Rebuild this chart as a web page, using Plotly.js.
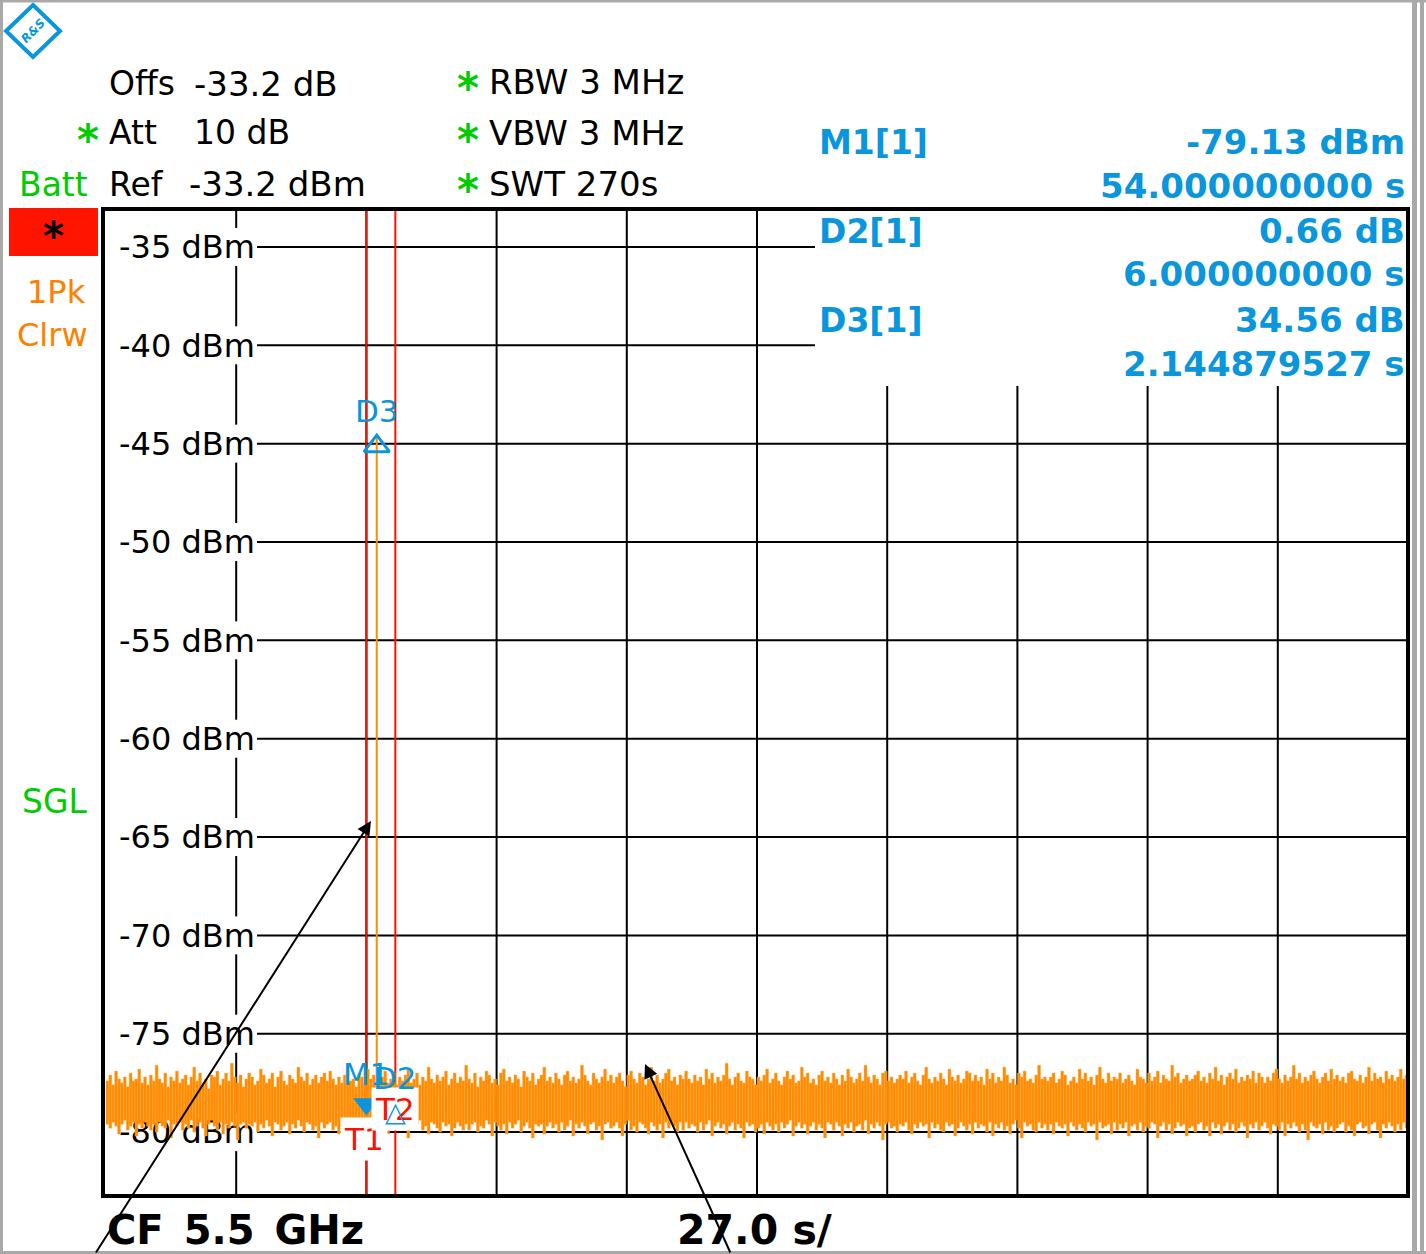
<!DOCTYPE html>
<html>
<head>
<meta charset="utf-8">
<script src="https://cdn.plot.ly/plotly-3.0.1.min.js"></script>
<style>html,body{margin:0;padding:0;background:#fff;}#chart{width:1426px;height:1254px;}</style>
</head>
<body>
<div id="chart"></div>
<script>
// ---------------- data ----------------
const sweepTimeS = 270;
const timeGridStepS = 27;
const yTickVals = [-80, -75, -70, -65, -60, -55, -50, -45, -40, -35];
const yTickLabels = ['-80 dBm', '-75 dBm', '-70 dBm', '-65 dBm', '-60 dBm', '-55 dBm', '-50 dBm', '-45 dBm', '-40 dBm', '-35 dBm'];

// peak-detector trace: per time bin, top and bottom of the drawn trace (dBm)
const noiseHigh = [
-77.4,-77.1,-77.6,-76.9,-77.3,-77.5,-77.2,-77.7,-77.0,-77.4,-77.3,-76.8,-77.5,-77.2,-77.6,-77.1,-77.4,-76.6,-77.3,-77.5,-77.0,-77.7,-77.2,-77.4,-76.9,
-77.5,-77.3,-77.1,-77.6,-77.2,-76.7,-77.4,-77.0,-77.5,-77.3,-77.8,-77.1,-77.2,-76.9,-77.6,-77.3,-77.0,-77.4,-76.5,-77.2,-77.5,-77.1,-77.7,-77.3,-77.0,
-77.2,-77.6,-77.4,-76.8,-77.1,-77.5,-77.3,-77.0,-77.7,-77.2,-76.9,-77.4,-77.6,-77.1,-77.3,-77.5,-76.7,-77.2,-77.4,-77.0,-77.6,-77.3,-77.1,-77.5,-77.2,
-77.0,-77.4,-76.9,-77.3,-77.6,-77.2,-77.5,-77.1,-76.6,-77.4,-77.3,-77.7,-77.0,-77.2,-77.5,-76.8,-77.3,-77.1,-77.6,-77.4,-77.2,-76.9,-77.5,-77.3,-77.0,
-77.6,-77.2,-77.4,-77.1,-76.8,-77.5,-77.3,-77.0,-77.6,-77.2,-77.4,-76.7,-77.3,-77.5,-77.1,-77.4,-77.2,-76.9,-77.6,-77.3,-77.0,-77.5,-77.2,-77.4,-76.6,
-77.3,-77.5,-77.0,-77.7,-77.2,-77.4,-76.9,-77.1,-77.5,-77.3,-77.6,-77.0,-76.8,-77.4,-77.2,-77.5,-77.1,-77.3,-77.7,-76.9,-77.2,-77.4,-77.0,-77.6,-77.3,
-77.1,-76.7,-77.4,-77.2,-77.5,-77.0,-77.3,-77.6,-77.1,-76.9,-77.4,-77.2,-77.5,-77.3,-76.6,-77.1,-77.4,-77.6,-77.0,-77.3,-77.5,-77.2,-76.8,-77.4,-77.1,
-77.5,-77.2,-77.0,-77.4,-77.7,-77.1,-76.9,-77.3,-77.5,-77.0,-77.2,-77.6,-77.3,-76.7,-77.4,-77.1,-77.5,-77.3,-77.0,-76.8,-77.4,-77.2,-77.6,-77.1,-77.3,
-76.9,-77.3,-77.5,-77.1,-77.4,-77.2,-77.6,-76.8,-77.3,-77.0,-77.5,-77.2,-77.4,-77.1,-76.5,-77.3,-77.6,-77.2,-77.0,-77.4,-77.5,-76.9,-77.2,-77.3,-77.6,
-77.2,-77.4,-77.1,-76.8,-77.5,-77.3,-77.0,-77.4,-77.6,-77.2,-76.9,-77.3,-77.1,-77.5,-77.4,-76.7,-77.2,-77.0,-77.5,-77.3,-77.6,-77.1,-76.9,-77.4,-77.2,
-77.5,-77.0,-77.3,-77.6,-77.1,-77.4,-76.8,-77.2,-77.5,-77.3,-77.0,-77.4,-76.6,-77.2,-77.5,-77.1,-77.3,-77.6,-77.0,-76.9,-77.4,-77.2,-77.5,-77.3,-77.1,
-77.3,-76.9,-77.5,-77.2,-77.0,-77.4,-77.6,-77.1,-76.7,-77.3,-77.5,-77.2,-77.4,-77.0,-77.3,-77.6,-76.8,-77.2,-77.4,-77.1,-77.5,-77.3,-76.9,-77.0,-77.4,
-77.1,-77.4,-77.2,-77.6,-76.8,-77.3,-77.0,-77.5,-77.2,-77.4,-76.7,-77.1,-77.5,-77.3,-77.6,-77.0,-77.2,-76.9,-77.4,-77.3,-77.5,-77.1,-76.6,-77.3,-77.2,
-77.4,-77.2,-77.0,-77.5,-77.3,-76.9,-77.1,-77.6,-77.4,-77.2,-77.5,-76.8,-77.3,-77.0,-77.4,-77.2,-77.6,-77.1,-76.7,-77.3,-77.5,-77.0,-77.4,-77.2,-77.3,
-77.0,-77.5,-77.3,-77.1,-77.4,-77.6,-76.8,-77.2,-77.3,-77.5,-77.0,-77.4,-77.2,-76.9,-77.5,-77.1,-77.3,-77.4,-76.6,-77.2,-77.0,-77.5,-77.3,-77.1,-77.4,
-77.3,-77.1,-76.9,-77.4,-77.2,-77.5,-77.0,-77.3,-76.7,-77.4,-77.1,-77.6,-77.2,-77.0,-77.3,-76.8,-77.5,-77.2,-77.4,-77.1,-77.3,-76.9,-77.5,-77.0,-77.2,
-77.5,-77.2,-77.4,-77.0,-76.8,-77.3,-77.5,-77.1,-77.4,-77.2,-76.6,-77.3,-77.0,-77.5,-77.2,-77.4,-77.1,-76.9,-77.3,-77.5,-77.2,-77.0,-77.4,-76.8,-77.3,
-77.1,-77.4,-77.2,-77.5,-77.0,-76.9,-77.3,-77.4,-77.1,-77.5,-77.2,-76.7,-77.4,-77.0,-77.3,-77.2,-77.5,-76.9,-77.3,-77.1,-77.4,-77.2,-76.8,-77.3,-77.1
];
const noiseLow = [
-79.6,-79.8,-79.5,-79.7,-80.1,-79.6,-79.4,-79.9,-79.7,-79.5,-80.2,-79.6,-79.8,-79.5,-79.7,-79.9,-79.6,-80.0,-79.5,-79.7,-79.8,-79.4,-80.3,-79.6,-79.7,
-79.5,-79.9,-79.6,-79.8,-79.4,-80.0,-79.7,-79.5,-79.8,-80.2,-79.6,-79.4,-79.7,-79.9,-79.5,-80.1,-79.6,-79.8,-79.5,-79.7,-80.4,-79.6,-79.5,-79.8,-79.6,
-79.7,-79.5,-80.0,-79.6,-79.8,-79.4,-79.7,-80.2,-79.5,-79.6,-79.9,-79.7,-79.5,-80.1,-79.6,-79.8,-79.4,-79.7,-80.0,-79.5,-79.6,-79.9,-79.7,-80.3,-79.5,
-79.8,-79.6,-79.5,-79.9,-79.7,-80.1,-79.5,-79.6,-79.8,-79.4,-79.7,-80.0,-79.6,-79.5,-79.9,-79.7,-80.2,-79.5,-79.6,-79.8,-79.7,-79.4,-80.1,-79.6,-79.7,
-79.5,-79.7,-79.9,-79.6,-80.3,-79.5,-79.8,-79.6,-79.4,-79.9,-79.7,-80.1,-79.5,-79.6,-79.8,-80.0,-79.5,-79.7,-79.6,-80.2,-79.8,-79.5,-79.7,-79.9,-79.6,
-79.9,-79.6,-79.5,-80.0,-79.7,-79.8,-79.4,-79.6,-80.2,-79.5,-79.7,-79.9,-79.6,-80.1,-79.5,-79.8,-79.6,-79.4,-80.0,-79.7,-79.5,-79.8,-80.3,-79.6,-79.7,
-79.6,-80.1,-79.7,-79.5,-79.8,-79.6,-80.0,-79.5,-79.9,-79.7,-79.4,-80.2,-79.6,-79.8,-79.5,-79.7,-80.1,-79.6,-79.5,-79.9,-79.7,-80.4,-79.6,-79.5,-79.8,
-79.7,-79.5,-79.8,-80.2,-79.6,-79.4,-79.9,-79.7,-80.0,-79.5,-79.6,-79.8,-80.1,-79.5,-79.7,-79.9,-79.6,-80.3,-79.5,-79.8,-79.6,-79.7,-80.0,-79.5,-79.9,
-79.5,-79.8,-79.6,-79.7,-80.0,-79.5,-79.9,-79.6,-79.4,-80.2,-79.7,-79.5,-79.8,-79.6,-80.1,-79.7,-79.5,-79.9,-79.6,-79.8,-80.3,-79.5,-79.7,-79.6,-80.0,
-79.8,-79.6,-80.1,-79.5,-79.7,-79.9,-79.6,-80.0,-79.5,-79.8,-79.6,-79.4,-80.2,-79.7,-79.5,-79.8,-79.6,-80.1,-79.7,-79.5,-79.9,-79.6,-79.8,-80.3,-79.5,
-79.6,-79.9,-79.5,-79.7,-80.2,-79.6,-79.8,-79.5,-80.0,-79.7,-79.6,-79.9,-79.4,-80.1,-79.6,-79.8,-79.5,-79.7,-80.4,-79.6,-79.5,-79.8,-79.7,-80.0,-79.6,
-79.7,-79.5,-79.9,-80.1,-79.6,-79.8,-79.5,-79.7,-79.6,-80.3,-79.5,-79.8,-79.6,-79.9,-80.0,-79.5,-79.7,-79.6,-80.2,-79.8,-79.5,-79.7,-79.9,-79.6,-80.1,
-79.5,-79.8,-79.6,-79.7,-80.0,-79.5,-80.2,-79.6,-79.8,-79.5,-79.9,-79.7,-80.1,-79.6,-79.4,-79.8,-80.3,-79.5,-79.7,-79.6,-79.9,-80.0,-79.5,-79.8,-79.6,
-79.9,-79.6,-80.1,-79.5,-79.7,-79.8,-79.6,-80.2,-79.5,-79.7,-79.9,-79.6,-79.8,-80.0,-79.5,-79.7,-79.6,-80.4,-79.5,-79.8,-79.7,-79.6,-80.1,-79.5,-79.9,
-79.6,-79.8,-79.5,-80.2,-79.7,-79.6,-79.9,-79.5,-80.0,-79.7,-79.8,-79.5,-79.6,-80.3,-79.7,-79.5,-79.9,-79.6,-80.1,-79.8,-79.5,-79.7,-79.6,-80.2,-79.8,
-79.7,-80.0,-79.6,-79.5,-79.9,-79.7,-80.2,-79.5,-79.8,-79.6,-80.1,-79.7,-79.5,-79.9,-79.6,-80.0,-79.8,-79.5,-79.7,-80.3,-79.6,-79.8,-79.5,-79.9,-79.7,
-79.5,-79.8,-80.1,-79.6,-79.7,-79.9,-79.5,-80.2,-79.6,-79.8,-79.5,-79.7,-80.0,-79.6,-79.9,-80.4,-79.5,-79.7,-79.8,-79.6,-80.1,-79.5,-79.9,-79.7,-80.0,
-79.8,-79.6,-79.5,-80.0,-79.7,-79.9,-80.2,-79.6,-79.5,-79.8,-79.7,-80.1,-79.6,-79.5,-79.9,-80.3,-79.6,-79.8,-79.5,-79.7,-80.0,-79.6,-79.9,-79.5,-79.8
];

// single burst captured by the trace (D3)
const pulseTimeS = [56.144879527];
const pulsePeakDbm = [-44.57];

// markers
const markerNames = ['M1', 'D2', 'D3'];
const markerTimesS = [54, 60, 56.144879527];
const markerLevelsDbm = [-79.13, -78.47, -44.57];
const readoutName = ['M1[1]', 'D2[1]', 'D3[1]'];
const readoutLevel = ['-79.13 dBm', '0.66 dB', '34.56 dB'];
const readoutTime = ['54.000000000 s', '6.000000000 s', '2.144879527 s'];

// time lines
const timeLineNames = ['T1', 'T2'];
const timeLineS = [54, 60];

// ---------------- layout helpers ----------------
const FONT = 'DejaVu Sans, Verdana, sans-serif';
const BLUE = '#0a96dc', GREEN = '#00cc00', ORANGE = '#ff8000', TRACE = '#ff8c00', RED = '#ff1000';
const L = 106, R = 1408, TOP = 209, BOT = 1196;
const px = x => (x - L) / (R - L);
const py = y => (BOT - y) / (BOT - TOP);
const yMin = -83.25, yMax = -33.07;
const dbPerPx = (yMax - yMin) / (BOT - TOP);

function txt(text, x, y, o) {
  o = o || {};
  return {
    xref: 'paper', yref: 'paper', x: px(x), y: py(y),
    xanchor: o.anchor || 'left', yanchor: 'middle', showarrow: false, text: text,
    font: {family: FONT, size: o.size || 33, color: o.color || '#000'}
  };
}

const binW = sweepTimeS / noiseHigh.length;
const binTimes = noiseHigh.map((_, i) => (i + 0.5) * binW);
const binHeights = noiseHigh.map((h, i) => h - noiseLow[i]);
const pulseIdx = Math.floor(pulseTimeS[0] / binW);

const traces = [
  {
    type: 'bar', x: binTimes, y: binHeights, base: noiseLow, width: binW,
    marker: {color: TRACE, line: {color: '#ffa947', width: 0.4}},
    hoverinfo: 'skip'
  },
  {
    type: 'scatter', mode: 'lines',
    x: [pulseTimeS[0], pulseTimeS[0]], y: [noiseLow[pulseIdx], pulsePeakDbm[0]],
    line: {color: TRACE, width: 2}, hoverinfo: 'skip'
  },
  {
    type: 'scatter', mode: 'markers', x: [markerTimesS[0]], y: [markerLevelsDbm[0]],
    marker: {symbol: 'triangle-up', angle: 180, standoff: 11, size: 23, color: BLUE, line: {width: 0}},
    hoverinfo: 'skip'
  },
  {
    type: 'scatter', mode: 'markers', x: [markerTimesS[2]], y: [markerLevelsDbm[2]],
    marker: {symbol: 'triangle-up-open', angle: 0, standoff: 11, size: 22, color: BLUE, line: {width: 3, color: BLUE}},
    hoverinfo: 'skip'
  }
];

const shapes = [];
const GRID = {color: '#000', width: 2};
const labelHalf = 19 * dbPerPx;        // half height of the label gap
const panelBottomPx = 386, panelLeftPx = 815, labelRightPx = 257;
// horizontal graticule (starts right of the level labels, stops at the marker panel)
yTickVals.forEach(v => {
  const yPix = BOT - (v - yMin) / dbPerPx;
  shapes.push({type: 'line', layer: 'below', xref: 'paper', yref: 'y',
    x0: px(labelRightPx), x1: yPix < panelBottomPx ? px(panelLeftPx) : 1, y0: v, y1: v, line: GRID});
});
// vertical graticule
for (let t = timeGridStepS; t < sweepTimeS; t += timeGridStepS) {
  const xPix = L + t / sweepTimeS * (R - L);
  if (t === timeGridStepS) {
    const vals = yTickVals.slice().sort((a, b) => a - b);
    shapes.push({type: 'line', layer: 'below', xref: 'x', yref: 'y', x0: t, x1: t, y0: yMin, y1: vals[0] - labelHalf, line: GRID});
    for (let k = 0; k < vals.length - 1; k++) {
      shapes.push({type: 'line', layer: 'below', xref: 'x', yref: 'y', x0: t, x1: t,
        y0: vals[k] + labelHalf, y1: vals[k + 1] - labelHalf, line: GRID});
    }
    shapes.push({type: 'line', layer: 'below', xref: 'x', yref: 'y', x0: t, x1: t, y0: vals[vals.length - 1] + labelHalf, y1: yMax, line: GRID});
  } else {
    shapes.push({type: 'line', layer: 'below', xref: 'x', yref: 'paper', x0: t, x1: t,
      y0: 0, y1: xPix > panelLeftPx ? py(panelBottomPx) : 1, line: GRID});
  }
}
// time lines
timeLineS.forEach(t => shapes.push({type: 'line', layer: 'below', xref: 'x', yref: 'paper',
  x0: t, x1: t, y0: 0, y1: 1, line: {color: RED, width: 2}}));
// frame
shapes.push({type: 'rect', layer: 'above', xref: 'paper', yref: 'paper',
  x0: px(103), x1: px(1408), y0: py(1196), y1: py(209), line: {color: '#000', width: 4}});
// red status box
shapes.push({type: 'rect', layer: 'above', xref: 'paper', yref: 'paper',
  x0: px(9), x1: px(98), y0: py(256), y1: py(208), fillcolor: '#ff1400', line: {width: 0}});
// logo diamond
shapes.push({type: 'path', layer: 'above', xref: 'paper', yref: 'paper',
  path: `M${px(33)},${py(5)} L${px(60)},${py(31)} L${px(33)},${py(57)} L${px(6)},${py(31)} Z`,
  line: {color: BLUE, width: 4}, fillcolor: '#fff'});
// outer grey frame
const GREY = '#a9a9a9';
shapes.push({type: 'line', xref: 'paper', yref: 'paper', x0: px(0), x1: px(1426), y0: py(1), y1: py(1), line: {color: GREY, width: 3}});
shapes.push({type: 'line', xref: 'paper', yref: 'paper', x0: px(1.5), x1: px(1.5), y0: py(0), y1: py(1254), line: {color: GREY, width: 3}});
shapes.push({type: 'line', xref: 'paper', yref: 'paper', x0: px(1414.5), x1: px(1414.5), y0: py(0), y1: py(1254), line: {color: GREY, width: 5}});
shapes.push({type: 'line', xref: 'paper', yref: 'paper', x0: px(1422), x1: px(1422), y0: py(0), y1: py(1254), line: {color: GREY, width: 4}});
shapes.push({type: 'line', xref: 'paper', yref: 'paper', x0: px(0), x1: px(1426), y0: py(1252.5), y1: py(1252.5), line: {color: GREY, width: 3}});

const ann = [];
// logo lettering
ann.push(Object.assign(txt('<i><b>R&amp;S</b></i>', 33, 31, {anchor: 'center', size: 12, color: BLUE}), {textangle: -45}));
// header, left block
ann.push(txt('Offs', 107, 84));
ann.push(txt('-33.2 dB', 192, 84, {size: 34}));
ann.push(txt('<b>*</b>', 88, 140, {anchor: 'center', size: 42, color: GREEN}));
ann.push(txt('Att', 107, 133));
ann.push(txt('10 dB', 192, 133));
ann.push(txt('Batt', 90, 184, {anchor: 'right', color: GREEN}));
ann.push(txt('Ref', 107, 184));
ann.push(txt('-33.2 dBm', 187, 184, {size: 34}));
// header, middle block
[82, 133, 184].forEach(y => ann.push(txt('<b>*</b>', 468, y + 7, {anchor: 'center', size: 42, color: GREEN})));
ann.push(txt('RBW 3 MHz', 487, 82, {size: 34}));
ann.push(txt('VBW 3 MHz', 487, 133, {size: 34}));
ann.push(txt('SWT 270s', 487, 184, {size: 34}));
// marker readouts
const rowY = [[142, 186], [231, 274], [320, 364]];
readoutName.forEach((n, i) => {
  ann.push(txt('<b>' + n + '</b>', 817, rowY[i][0], {size: 33, color: BLUE}));
  ann.push(txt('<b>' + readoutLevel[i] + '</b>', 1407, rowY[i][0], {anchor: 'right', size: 34, color: BLUE}));
  ann.push(txt('<b>' + readoutTime[i] + '</b>', 1407, rowY[i][1], {anchor: 'right', size: 34, color: BLUE}));
});
// left column
ann.push(txt('<b>*</b>', 53, 236, {anchor: 'center', size: 40, color: '#000'}));
ann.push(txt('1Pk', 88, 292, {anchor: 'right', size: 32, color: ORANGE}));
ann.push(txt('Clrw', 90, 335, {anchor: 'right', size: 32, color: ORANGE}));
ann.push(txt('SGL', 90, 801, {anchor: 'right', size: 33, color: GREEN}));
// footer
ann.push(txt('<b>CF\u20025.5\u2002GHz</b>', 105, 1230, {size: 40}));
ann.push(txt('<b>27.0 s/</b>', 675, 1230, {size: 41}));
// time line labels
timeLineNames.forEach((n, i) => ann.push({
  xref: 'x', yref: 'paper', x: timeLineS[i], y: py(i === 0 ? 1139 : 1109), xshift: i === 0 ? -2 : 0,
  xanchor: 'center', yanchor: 'middle', showarrow: false, text: n,
  font: {family: FONT, size: 31, color: RED}, bgcolor: '#fff', borderpad: 3
}));
// D2 delta-marker symbol (drawn above the T2 label, like the analyser does)
ann.push({
  xref: 'x', yref: 'y', x: markerTimesS[1], y: markerLevelsDbm[1], yshift: -10,
  xanchor: 'center', yanchor: 'middle', showarrow: false, text: '<b>\u25B3</b>',
  font: {family: FONT, size: 27, color: BLUE}
});
// marker labels
const labelShift = [41, 24, 24];
markerNames.forEach((n, i) => ann.push({
  xref: 'x', yref: 'y', x: markerTimesS[i], y: markerLevelsDbm[i], yshift: labelShift[i],
  xanchor: 'center', yanchor: 'middle', showarrow: false, text: n,
  font: {family: FONT, size: 31, color: BLUE}
}));
// hand-drawn pointer arrows
ann.push({xref: 'paper', yref: 'paper', x: px(371), y: py(821), ax: -276, ay: 456,
  showarrow: true, arrowhead: 2, arrowsize: 1.4, arrowwidth: 2, arrowcolor: '#000', text: ''});
ann.push({xref: 'paper', yref: 'paper', x: px(645), y: py(1064), ax: 86, ay: 212,
  showarrow: true, arrowhead: 2, arrowsize: 1.4, arrowwidth: 2, arrowcolor: '#000', text: ''});

const layout = {
  width: 1426, height: 1254,
  margin: {l: L, r: 1426 - R, t: TOP, b: 1254 - BOT, pad: 0},
  paper_bgcolor: '#fff', plot_bgcolor: '#fff',
  showlegend: false, barmode: 'overlay',
  font: {family: FONT},
  xaxis: {
    range: [0, sweepTimeS], showgrid: false, zeroline: false,
    showticklabels: false, ticks: '', showline: false, fixedrange: true
  },
  yaxis: {
    range: [yMin, yMax], tickmode: 'array', tickvals: yTickVals, ticktext: yTickLabels,
    showgrid: false, zeroline: false,
    ticks: '', showline: false, ticklabelposition: 'inside', ticklabelstandoff: 10,
    tickfont: {family: FONT, size: 32, color: '#000'}, layer: 'below traces', fixedrange: true
  },
  shapes: shapes,
  annotations: ann
};

Plotly.newPlot('chart', traces, layout, {displayModeBar: false, staticPlot: true});
</script>
</body>
</html>
